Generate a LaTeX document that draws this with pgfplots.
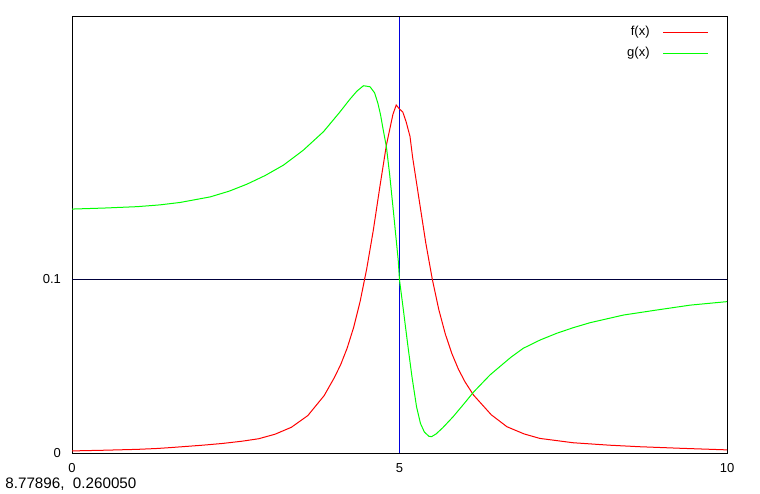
\documentclass[border=0pt]{standalone}
\usepackage{pgfplots}
\pgfplotsset{compat=1.18}
\usepackage{fontspec}
\setmainfont{Liberation Sans}
\definecolor{myvblue}{RGB}{0,0,220}
\definecolor{myhnavy}{RGB}{0,0,60}
\definecolor{fred}{RGB}{255,0,0}
\definecolor{ggreen}{RGB}{0,255,0}
\begin{document}
\begin{tikzpicture}
\useasboundingbox (0,0) rectangle (380pt,246.5pt);
\begin{axis}[
  at={(36pt,20pt)}, anchor=south west,
  scale only axis, width=327.5pt, height=218pt,
  xmin=0, xmax=10, ymin=0, ymax=0.2506,
  xtick={0,5,10}, ytick={0,0.1},
  yticklabels={0,0.1},
  major tick length=0pt,
  axis line style={black, line width=0.5pt},
  tick label style={font=\fontsize{6.5}{7}\selectfont, /pgf/number format/assume math mode=true},
  xticklabel style={yshift=-1.5pt},
  yticklabel style={xshift=-2pt},
  legend cell align=right,
  legend plot pos=right,
  legend style={draw=none, fill=none, font=\fontsize{6.5}{7}\selectfont,
    at={(axis description cs:0.9725,0.985)}, anchor=north east,
    inner sep=0pt, row sep=2.6pt,
    nodes={inner sep=1pt}},
  legend image code/.code={\path (0pt,0pt); \draw[#1] (5.5pt,0pt) -- (28pt,0pt);},
  every axis plot/.append style={line width=0.5pt},
]
\addplot[draw=myhnavy, forget plot] coordinates {(0,0.1) (10,0.1)};
\addplot[draw=myvblue, forget plot, line width=0.7pt] coordinates {(5,0) (5,0.2506)};
\addplot[draw=fred] coordinates {
(0,0.0012) (0.5,0.0016) (1.0,0.0021) (1.3,0.0026) (1.5,0.0031) (2.0,0.0045)
(2.3,0.0055) (2.6,0.0068) (2.85,0.0082) (3.1,0.0108) (3.35,0.0148)
(3.6,0.0215) (3.85,0.0330) (4.0,0.0430) (4.1,0.0506) (4.2,0.0602)
(4.3,0.0722) (4.4,0.0873) (4.5,0.1060) (4.6,0.1280) (4.7,0.1530)
(4.8,0.1770) (4.9,0.1947) (4.95,0.2000) (5.0,0.1977) (5.05,0.1960)
(5.1,0.1905) (5.16,0.1820) (5.2,0.1700) (5.3,0.1455) (5.4,0.1210)
(5.5,0.1000) (5.6,0.0824) (5.7,0.0683) (5.8,0.0571) (5.9,0.0481)
(6.0,0.0409) (6.13,0.0333) (6.4,0.0220) (6.64,0.0151) (6.9,0.0110)
(7.14,0.0084) (7.65,0.0059) (8.2,0.0045) (8.67,0.0036) (9.3,0.0027) (10,0.0018)
};
\addlegendentry{f(x)}
\addplot[draw=ggreen] coordinates {
(0,0.1402) (0.5,0.1408) (1.0,0.1416) (1.34,0.1426) (1.65,0.1440)
(2.11,0.1472) (2.4,0.1505) (2.67,0.1545) (2.95,0.1595) (3.23,0.1655) (3.53,0.1740)
(3.84,0.1847) (4.09,0.1960) (4.24,0.2032) (4.35,0.2080) (4.45,0.2111) (4.55,0.2105)
(4.62,0.2070) (4.67,0.2010) (4.71,0.1945) (4.75,0.1860) (4.80,0.1760) (4.85,0.1600)
(4.91,0.1377) (4.98,0.1110) (5.0,0.0994) (5.06,0.0820) (5.13,0.0610)
(5.19,0.0439) (5.26,0.0266) (5.32,0.0170) (5.38,0.0120) (5.45,0.0096) (5.49,0.0094) (5.56,0.0110) (5.66,0.0145)
(5.82,0.0209) (6.0,0.0290) (6.13,0.0350) (6.38,0.0448) (6.53,0.0496) (6.7,0.0550) (6.89,0.0602)
(7.15,0.0650) (7.40,0.0688) (7.65,0.0720) (7.91,0.0749) (8.42,0.0793) (8.93,0.0822) (9.44,0.0850) (10,0.0870)
};
\addlegendentry{g(x)}
\end{axis}
\node[anchor=west, inner sep=0pt, font=\fontsize{7.6}{8}\selectfont] at (2.5pt,4.5pt) {8.77896,\ \ 0.260050};
\end{tikzpicture}
\end{document}
